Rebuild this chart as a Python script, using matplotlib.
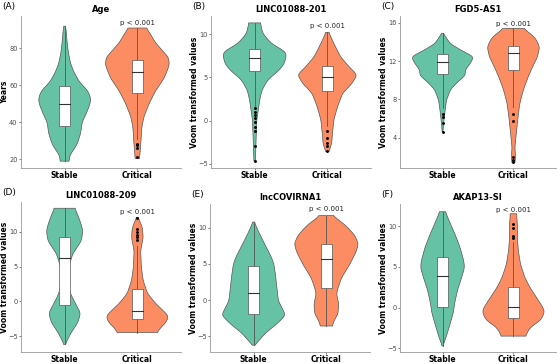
import numpy as np
import matplotlib
matplotlib.use("Agg")
import matplotlib.pyplot as plt
from matplotlib.patches import Rectangle

groups = ["Stable", "Critical"]
colors = ["#66C2A5", "#FC8D62"]
p_text = "p < 0.001"

titles = ["Age", "LINC01088-201", "FGD5-AS1", "LINC01088-209", "lncCOVIRNA1", "AKAP13-SI"]
tags = ["(A)", "(B)", "(C)", "(D)", "(E)", "(F)"]
ylabels = ["Years"] + ["Voom transformed values"] * 5
ylims = [(15.3, 97.5), (-5.5, 12.1), (0.85, 16.7), (-7.3, 14.3), (-7.2, 13.3), (-5.45, 12.7)]
yticks = [[20, 40, 60, 80], [-5, 0, 5, 10], [4, 8, 12, 16], [-5, 0, 5, 10], [-5, 0, 5, 10], [-5, 0, 5, 10]]
p_y = [93.5, 10.9, 15.9, 12.8, 12.6, 11.95]

# violin outlines: (value, half width) per group
stable_shape = [
    [(19, 0.06), (22, 0.07), (28, 0.17), (34, 0.22), (40, 0.24), (45, 0.30), (50, 0.35), (53, 0.36),
     (57, 0.32), (62, 0.20), (67, 0.13), (72, 0.08), (78, 0.05), (85, 0.03), (90, 0.02), (92, 0.01)],
    [(-4.7, 0.01), (-2.2, 0.02), (0.1, 0.03), (1.2, 0.05), (2.4, 0.07), (3.5, 0.10), (4.7, 0.18),
     (5.85, 0.34), (6.6, 0.41), (7.8, 0.44), (8.15, 0.39), (8.9, 0.23), (10.1, 0.11), (11.3, 0.08)],
    [(4.6, 0.005), (5.5, 0.015), (6.5, 0.03), (7.9, 0.055), (9.0, 0.11), (9.8, 0.21), (10.5, 0.32),
     (11.06, 0.32), (11.75, 0.39), (12.45, 0.44), (13.1, 0.27), (13.8, 0.11), (14.9, 0.01)],
    [(-6.2, 0.01), (-5.5, 0.04), (-4.5, 0.09), (-3.1, 0.18), (-1.7, 0.22), (-0.75, 0.17), (1.1, 0.08),
     (3.0, 0.045), (4.9, 0.055), (6.8, 0.11), (8.7, 0.23), (10.1, 0.25), (11.0, 0.23), (12.45, 0.18), (13.4, 0.14)],
    [(-6.25, 0.01), (-6.0, 0.04), (-4.6, 0.16), (-3.3, 0.32), (-2.1, 0.44), (-1.5, 0.41), (-0.1, 0.34),
     (1.7, 0.32), (3.5, 0.30), (4.9, 0.28), (5.8, 0.25), (7.6, 0.16), (9.4, 0.07), (10.8, 0.01)],
    [(-4.7, 0.005), (-3.5, 0.055), (-1.9, 0.11), (-0.7, 0.15), (0.5, 0.17), (2.1, 0.21), (3.7, 0.27),
     (4.9, 0.31), (5.7, 0.30), (7.3, 0.25), (8.9, 0.18), (10.5, 0.10), (11.75, 0.04)],
]
critical_shape = [
    [(20.5, 0.03), (25, 0.04), (30, 0.05), (37, 0.06), (43, 0.09), (50, 0.16), (57, 0.25), (64, 0.37),
     (71, 0.44), (75, 0.43), (83, 0.25), (89, 0.16), (91, 0.12)],
    [(-3.6, 0.02), (-3.2, 0.04), (-2.6, 0.06), (-1.5, 0.07), (0.1, 0.09), (1.6, 0.14), (3.15, 0.21),
     (4.3, 0.34), (5.3, 0.41), (6.2, 0.30), (7.4, 0.18), (8.9, 0.09), (10.2, 0.02)],
    [(1.4, 0.02), (2.0, 0.03), (3.0, 0.02), (4.45, 0.04), (6.2, 0.065), (7.6, 0.09), (9.0, 0.14),
     (10.4, 0.21), (11.4, 0.27), (12.45, 0.34), (13.5, 0.37), (14.5, 0.30), (15.4, 0.14)],
    [(-4.5, 0.27), (-3.8, 0.32), (-3.1, 0.39), (-2.2, 0.43), (-1.7, 0.39), (-0.3, 0.25), (1.1, 0.14),
     (3.0, 0.08), (4.9, 0.055), (7.3, 0.045), (9.15, 0.08), (10.6, 0.07), (12.1, 0.01)],
    [(-3.6, 0.08), (-2.8, 0.11), (-1.9, 0.16), (-0.5, 0.17), (0.8, 0.14), (1.7, 0.16), (3.1, 0.21),
     (4.9, 0.32), (6.7, 0.41), (7.8, 0.44), (8.96, 0.39), (10.3, 0.27), (11.7, 0.09)],
    [(-3.5, 0.17), (-2.5, 0.23), (-1.5, 0.39), (-0.5, 0.44), (0.1, 0.41), (1.3, 0.32), (2.5, 0.23),
     (3.7, 0.16), (5.3, 0.10), (6.9, 0.07), (8.5, 0.055), (10.1, 0.055), (11.5, 0.045)],
]

# box stats: (whisker low, q1, median, q3, whisker high)
stable_box = [(19, 38, 49.7, 59.6, 92), (1.7, 5.7, 7.2, 8.27, 11.3), (7.06, 10.6, 11.9, 12.7, 14.9),
              (-6.2, -0.6, 6.2, 9.3, 13.4), (-6.2, -2.0, 1.03, 4.65, 10.8), (-4.7, 0.03, 3.9, 6.17, 11.75)]
critical_box = [(31, 56, 67, 73.7, 90.8), (-0.6, 3.46, 5.07, 6.35, 10.2), (7.2, 11.06, 12.8, 13.6, 15.4),
                (-4.5, -2.55, -1.37, 1.84, 8.0), (-3.6, 1.7, 5.7, 7.8, 11.7), (-3.5, -1.3, 0.1, 2.5, 8.1)]
stable_out = [[], [1.5, 1.0, 0.6, 0.3, -0.2, -0.7, -1.2, -2.9, -4.7], [6.5, 6.2, 5.5, 4.6], [], [], []]
critical_out = [[28.5, 27.5, 26.0, 21.5], [-1.2, -2.0, -2.6, -2.9, -3.5], [6.5, 5.8, 2.0, 1.7, 1.5],
                [12.0, 10.4, 10.0, 9.6, 9.2, 8.9], [], [10.2, 9.8, 8.8, 8.5]]

# axes boxes in pixels: left, top, right, bottom
W, H = 560, 364
boxes = [(21, 16, 181, 168), (211, 16, 371, 168), (400, 16, 556, 168),
         (21, 202, 181, 352), (210, 204, 370, 352), (400, 204, 556, 352)]

edge = "#555555"


def draw_violin(ax, x, shape, color):
    pts = np.array(shape)
    ys = np.linspace(pts[0, 0], pts[-1, 0], 300)
    ws = np.interp(ys, pts[:, 0], pts[:, 1])
    # light smoothing so the outline is not jagged
    k = np.exp(-0.5 * (np.arange(-12, 13) / 5.0) ** 2)
    k /= k.sum()
    padded = np.concatenate([np.full(12, ws[0]), ws, np.full(12, ws[-1])])
    ws = np.convolve(padded, k, mode="valid")
    xs = np.concatenate([x - ws, (x + ws)[::-1]])
    yy = np.concatenate([ys, ys[::-1]])
    ax.fill(xs, yy, facecolor=color, edgecolor=edge, linewidth=0.5, zorder=1)


def draw_box(ax, x, stats, outs):
    lo, q1, med, q3, hi = stats
    hw = 0.075
    ax.plot([x, x], [lo, hi], color=edge, lw=0.6, zorder=2)
    ax.add_patch(Rectangle((x - hw, q1), 2 * hw, q3 - q1, facecolor="white",
                           edgecolor=edge, lw=0.5, zorder=3))
    ax.plot([x - hw, x + hw], [med, med], color="#333333", lw=0.8, zorder=4)
    if outs:
        ax.scatter([x] * len(outs), outs, s=1.2, color="black", zorder=5)


fig = plt.figure(figsize=(W / 100, H / 100), dpi=100)
for i in range(6):
    l, t, r, b = boxes[i]
    ax = fig.add_axes([l / W, 1 - b / H, (r - l) / W, (b - t) / H])
    draw_violin(ax, 1, stable_shape[i], colors[0])
    draw_violin(ax, 2, critical_shape[i], colors[1])
    draw_box(ax, 1, stable_box[i], stable_out[i])
    draw_box(ax, 2, critical_box[i], critical_out[i])
    ax.text(2, p_y[i], p_text, ha="center", va="center", fontsize=5, color="#222222")

    ax.set_xlim(0.4, 2.6)
    ax.set_ylim(*ylims[i])
    ax.set_xticks([1, 2])
    ax.set_xticklabels(groups, fontsize=5.5, fontweight="bold")
    ax.set_yticks(yticks[i])
    ax.tick_params(axis="y", labelsize=4.8, colors="#4d4d4d", length=1.5, width=0.5, pad=1)
    ax.tick_params(axis="x", length=1.5, width=0.5, pad=0.5, colors="#4d4d4d", labelcolor="black")
    ax.set_ylabel(ylabels[i], fontsize=5.5, fontweight="bold")
    ax.yaxis.set_label_coords(-16.5 / (r - l), 0.5)
    ax.yaxis.label.set_va("center")
    ax.set_title(titles[i], fontsize=6, fontweight="bold", pad=3)
    for s in ["top", "right"]:
        ax.spines[s].set_visible(False)
    for s in ["left", "bottom"]:
        ax.spines[s].set_color("#999999")
        ax.spines[s].set_linewidth(0.6)
    fig.text((l - 19) / W, 1 - (t - 9) / H, tags[i], fontsize=6.5, ha="left", va="center")

fig.savefig("out.png", dpi=100)
